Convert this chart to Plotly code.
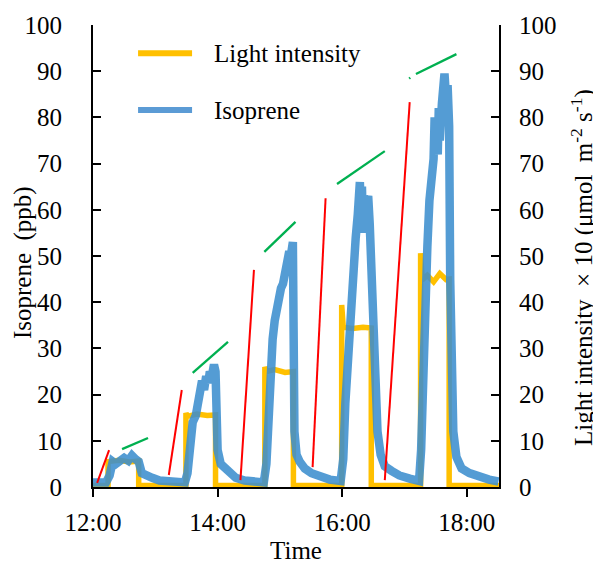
# imports
import pandas as pd
import plotly.graph_objects as go

# data (minutes after 12:00)
iso_min = [0, 7, 12.5, 16, 19, 22, 26, 30, 34, 37.5, 41, 44, 47, 51, 57, 64, 74, 88.5,
           91, 93, 96, 99, 101, 103, 105, 107, 109, 111, 112.5, 114.5, 116.5, 118, 120, 123, 127, 132, 137.5, 146, 156, 164.5,
           167, 169, 171, 173, 175, 177, 179, 181, 183, 185, 187, 189, 190.5, 192.5, 194, 196, 199, 204, 210.5, 218, 228, 238.5,
           241, 243, 245, 247, 249, 251, 253, 255, 256, 257, 258, 259, 260, 261, 263, 265, 266.5, 268.5, 270.5, 272, 274, 277, 281, 287.5, 295, 305, 314,
           316, 318, 320, 322, 324, 326, 328, 329, 330, 332, 333, 334, 336, 337, 338.5, 339.5, 340.5, 341.5, 343, 344, 345, 347, 350, 355, 362.5, 372, 381.5, 390.5]
iso_ppb = [1.0, 1.2, 1.0, 2.5, 5.5, 5.0, 5.8, 6.3, 5.7, 6.8, 6.0, 5.5, 3.0, 2.4, 2.0, 1.4, 1.1, 1.0,
           3, 9, 14, 15.5, 18, 19.5, 23, 21, 24, 22.5, 25, 24, 26.5, 25, 8, 5, 4, 2.7, 2.0, 1.4, 1.2, 1.0,
           5, 16, 24, 32, 36, 39, 40, 43, 44, 47, 48, 51, 50, 53, 12, 7, 5.5, 4, 3, 2.2, 1.6, 1.3,
           6, 18, 27, 36, 42, 48, 54, 59, 63, 66, 60, 65, 55, 63, 61, 63, 57, 45, 30, 20, 12, 7, 4.5, 3.5, 2.5, 1.8, 1.3,
           8, 28, 40, 52, 62, 67, 71, 80, 78, 72, 82, 75, 83, 87, 89.5, 86, 84, 87, 78, 45, 25, 12, 6.5, 4, 3, 2.2, 1.6, 1.2]

light_min = [0, 14.5, 14.5, 25, 35, 44, 44, 89.5, 89.5, 91, 100, 110, 118, 118,
             165.5, 165.5, 167, 175, 185, 193, 193, 239.5, 239.5, 241, 250, 260, 268, 268,
             315.5, 315.5, 317, 322, 328, 334, 340, 343, 343, 391]
light_val = [0.3, 0.3, 5.5, 5.8, 5.4, 5.6, 0.3, 0.3, 16.0, 15.3, 15.8, 15.5, 15.6, 0.3,
             0.3, 26.0, 25.0, 25.4, 24.8, 25.0, 0.3, 0.3, 39.4, 34.6, 34.3, 34.6, 34.4, 0.3,
             0.3, 50.6, 44.8, 45.8, 44.4, 46.2, 44.9, 45.0, 0.3, 0.3]

red_min = [4, 15.5, None, 73, 85.5, None, 142, 155, None, 211.5, 224, None, 281, 305]
red_val = [0.9, 8.0, None, 2.6, 21.0, None, 1.5, 47.0, None, 4.3, 62.5, None, 1.5, 83.3]
green_min = [28, 53, None, 96, 130, None, 165, 195, None, 235, 281, None, 304.5, 305.5, None, 311, 350]
green_val = [8.2, 10.6, None, 24.7, 31.4, None, 50.9, 57.4, None, 65.6, 72.7, None, 88.4, 88.6, None, 89.4, 93.7]

base = pd.Timestamp("2019-06-01 12:00")
def to_time(mins):
    return [None if m is None else base + pd.Timedelta(minutes=m) for m in mins]

font = "Liberation Serif, Times New Roman, serif"
fs = 25
tfont = dict(family=font, size=fs, color="black")

fig = go.Figure()
fig.add_trace(go.Scatter(x=to_time(light_min), y=light_val, mode="lines", name="Light intensity",
                         line=dict(color="#FFC000", width=5.5), showlegend=False))
fig.add_trace(go.Scatter(x=to_time(iso_min), y=iso_ppb, mode="lines", name="Isoprene",
                         line=dict(color="#3D8FCF", width=8.5), opacity=0.88, showlegend=False))
fig.add_trace(go.Scatter(x=to_time(red_min), y=red_val, mode="lines", line=dict(color="#FF0000", width=2),
                         showlegend=False, connectgaps=False))
fig.add_trace(go.Scatter(x=to_time(green_min), y=green_val, mode="lines", line=dict(color="#00B050", width=2.3),
                         showlegend=False, connectgaps=False))
# dummy trace so the right axis gets drawn
fig.add_trace(go.Scatter(x=[None], y=[None], yaxis="y2", showlegend=False))

# legend drawn by hand
for yy, col, txt in [(0.939, "#FFC000", "Light intensity"), (0.816, "#5B9BD5", "Isoprene")]:
    fig.add_shape(type="line", xref="paper", yref="paper", x0=0.111, x1=0.244, y0=yy, y1=yy,
                  line=dict(color=col, width=6))
    fig.add_annotation(xref="paper", yref="paper", x=0.293, y=yy, text=txt, showarrow=False,
                       xanchor="left", yanchor="middle", font=tfont)

# y axis titles
fig.add_annotation(xref="paper", yref="paper", x=-0.172, y=0.485, text="Isoprene  (ppb)", textangle=-90,
                   showarrow=False, xanchor="center", yanchor="middle", font=tfont)
fig.add_annotation(xref="paper", yref="paper", x=1.204, y=0.476,
                   text="Light intensity  \u00d7 10 (\u03bcmol  m<sup>-2</sup> s<sup>-1</sup>)", textangle=-90,
                   showarrow=False, xanchor="center", yanchor="middle", font=tfont)

# the page body has an 8px margin, so the figure is a bit smaller
fig.update_layout(
    width=593, height=560,
    margin=dict(l=85, r=102, t=17, b=81),
    plot_bgcolor="#FFFFFF", paper_bgcolor="#FFFFFF",
    font=tfont,
    xaxis=dict(range=[base, base + pd.Timedelta(minutes=391)], dtick=7200000, tick0=base,
               tickformat="%H:%M", showgrid=False, zeroline=False, showline=True, linecolor="black",
               linewidth=2, ticks="outside", ticklen=8, tickwidth=2, tickcolor="black", tickfont=tfont,
               ticklabelstandoff=4, automargin=False, title=dict(text="Time", standoff=6, font=tfont)),
    yaxis=dict(range=[0, 100], dtick=10, showgrid=False, zeroline=False, showline=True, linecolor="black",
               linewidth=2, ticks="inside", ticklen=8, tickwidth=2, tickcolor="black", ticklabelstandoff=24,
               tickfont=tfont, automargin=False),
    yaxis2=dict(range=[0, 100], dtick=10, overlaying="y", side="right", showgrid=False, zeroline=False,
                showline=True, linecolor="black", linewidth=2, ticks="inside", ticklen=8, tickwidth=2,
                tickcolor="black", ticklabelstandoff=13, tickfont=tfont, automargin=False),
)

fig.write_html("out.html")
